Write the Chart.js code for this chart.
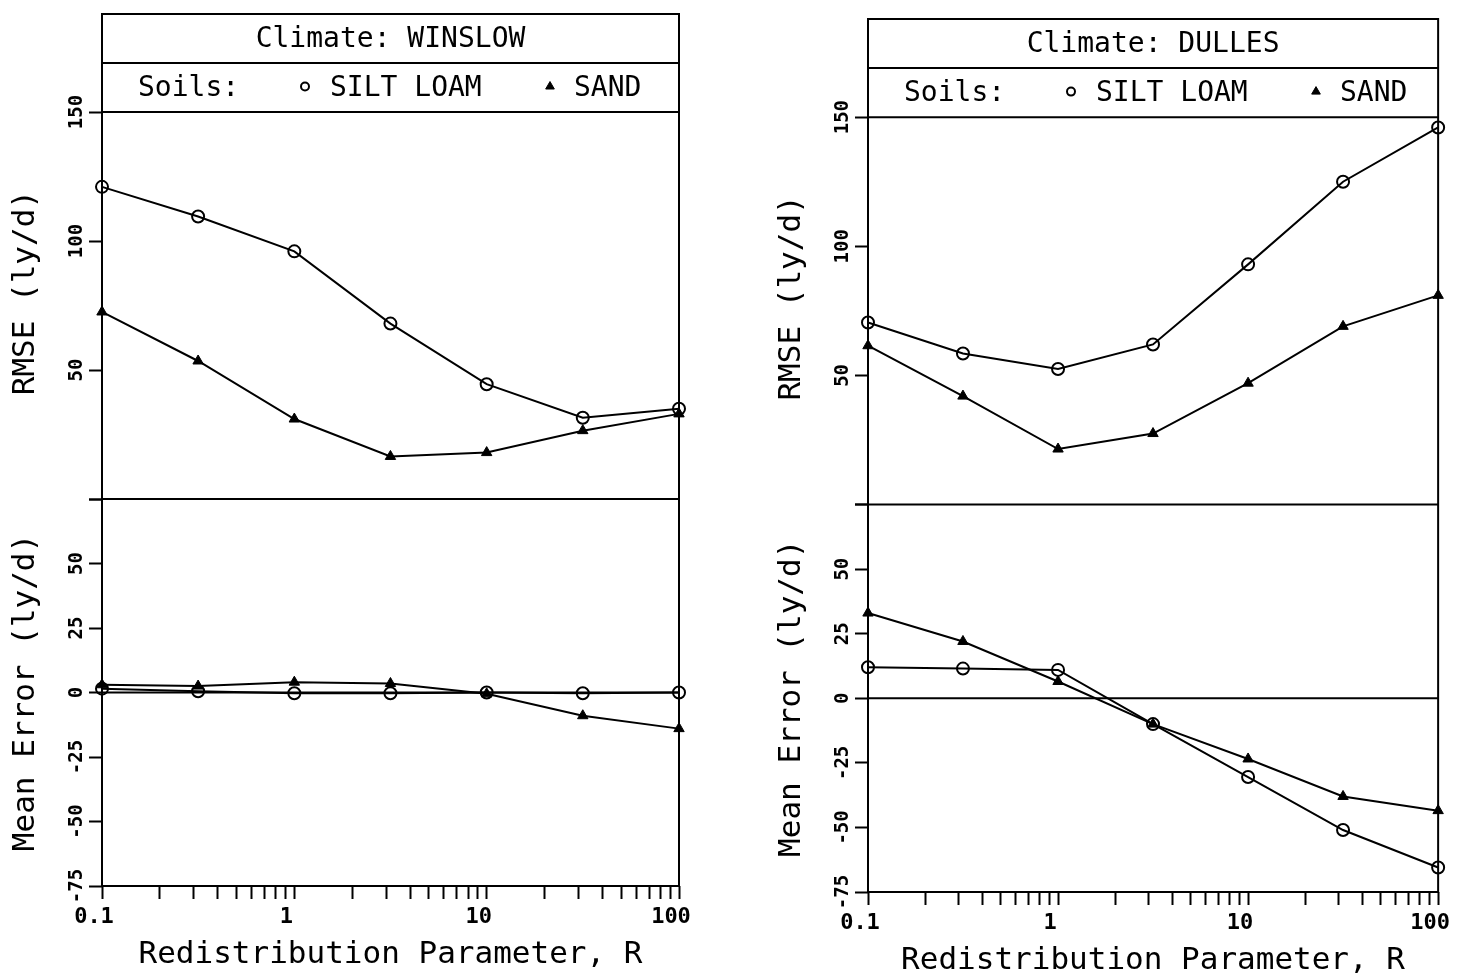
<!DOCTYPE html>
<html>
<head>
<meta charset="utf-8">
<title>RMSE and Mean Error vs Redistribution Parameter</title>
<script src="https://cdn.jsdelivr.net/npm/chart.js@4/dist/chart.umd.min.js"></script>
<style>
  html, body { margin: 0; padding: 0; background: #fff; }
  #wrap { position: relative; width: 1463px; height: 980px; overflow: hidden; }
  canvas { position: absolute; top: 0; }
</style>
</head>
<body>
<div id="wrap">
  <canvas id="winslow" width="731" height="980" style="left:0"></canvas>
  <canvas id="dulles" width="732" height="980" style="left:731px"></canvas>
</div>
<script>
// Redistribution parameter R (half-decade steps)
const redistribution = [0.1, 0.316, 1, 3.16, 10, 31.6, 100];
const soilNames = ['SILT LOAM', 'SAND'];

// Winslow climate
const winslowRmseSiltLoam = [121, 109.5, 96, 68, 44.5, 31.5, 35];
const winslowRmseSand = [72.5, 53.5, 31, 16.5, 18, 26.5, 33];
const winslowMeanErrorSiltLoam = [1.5, 0.5, -0.3, -0.3, 0, -0.3, 0];
const winslowMeanErrorSand = [3, 2.5, 4, 3.5, -0.5, -9, -14];

// Dulles climate
const dullesRmseSiltLoam = [70.5, 58.5, 52.5, 62, 93, 125, 146];
const dullesRmseSand = [61.5, 42, 21.5, 27.5, 47, 69, 81];
const dullesMeanErrorSiltLoam = [12, 11.5, 11, -10, -30.5, -51, -65.5];
const dullesMeanErrorSand = [33, 22, 6.5, -10, -23.5, -38, -43.5];

// Axis ticks and labels
const xMajorTicks = [0.1, 1, 10, 100];
const xTickLabels = ['0.1', '1', '10', '100'];
const rmseTicks = [0, 50, 100, 150];
const rmseTickLabels = ['', '50', '100', '150'];
const meanErrorTicks = [-75, -50, -25, 0, 25, 50, 75];
const meanErrorTickLabels = ['-75', '-50', '-25', '0', '25', '50', ''];

const xTitle = 'Redistribution Parameter, R';
const rmseTitle = 'RMSE (ly/d)';
const meanErrorTitle = 'Mean Error (ly/d)';
const legendPrefix = 'Soils:';

const FONT = "'DejaVu Sans Mono', monospace";

// minor + major tick positions on the log axis (1..9 in each decade)
const xTickValues = [];
xMajorTicks.slice(0, -1).forEach(d => {
  for (let k = 1; k <= 9; k++) xTickValues.push(Number((k * d).toPrecision(3)));
});
xTickValues.push(xMajorTicks[xMajorTicks.length - 1]);

const soilStyles = [
  { pointStyle: 'circle', pointRadius: 6, pointBorderWidth: 2,
    pointBackgroundColor: 'rgba(0,0,0,0)', pointBorderColor: '#000' },
  { pointStyle: 'triangle', pointRadius: 6, pointBorderWidth: 1,
    pointBackgroundColor: '#000', pointBorderColor: '#000' }
];

// Frame, divider, zero line, header boxes, rotated y labels and titles
const panelDecor = {
  id: 'panelDecor',
  beforeDatasetsDraw(chart, args, o) {
    const { ctx, chartArea: a, scales: { yR, yE } } = chart;
    ctx.save();
    ctx.strokeStyle = '#000';
    ctx.lineWidth = 2;
    ctx.strokeRect(a.left, a.top, a.right - a.left, a.bottom - a.top);
    const hline = y => {
      ctx.beginPath();
      ctx.moveTo(a.left, y);
      ctx.lineTo(a.right, y);
      ctx.stroke();
    };
    hline(yR.getPixelForValue(0));
    hline(yE.getPixelForValue(0));
    const legendBottom = yR.getPixelForValue(o.legendBottom);
    const titleBottom = yR.getPixelForValue(o.titleBottom);
    hline(legendBottom);
    hline(titleBottom);

    ctx.fillStyle = '#000';
    ctx.font = `28px ${FONT}`;
    ctx.textBaseline = 'middle';
    ctx.textAlign = 'center';
    ctx.fillText(`Climate: ${o.climate}`, (a.left + a.right) / 2, (a.top + titleBottom) / 2 + 1);

    const ly = (titleBottom + legendBottom) / 2 + 1;
    ctx.textAlign = 'left';
    ctx.fillText(legendPrefix, a.left + 36, ly);
    const items = [
      { marker: a.left + 203, text: a.left + 228, r: 4 },
      { marker: a.left + 448, text: a.left + 472, r: 5 }
    ];
    soilNames.forEach((name, i) => {
      const st = soilStyles[i];
      ctx.fillStyle = st.pointBackgroundColor;
      ctx.strokeStyle = '#000';
      ctx.lineWidth = i === 0 ? 2 : 1;
      Chart.helpers.drawPoint(ctx, { pointStyle: st.pointStyle, rotation: 0,
        radius: items[i].r, borderWidth: ctx.lineWidth }, items[i].marker, ly - 2);
      ctx.fillStyle = '#000';
      ctx.fillText(name, items[i].text, ly);
    });
    ctx.restore();
  },
  afterDraw(chart, args, o) {
    const { ctx, chartArea: a, scales: { yR, yE } } = chart;
    ctx.save();
    ctx.fillStyle = '#000';
    ctx.textAlign = 'center';
    ctx.textBaseline = 'middle';
    ctx.font = `bold 19px ${FONT}`;
    [yR, yE].forEach(s => {
      s.ticks.forEach(t => {
        if (!t.label) return;
        ctx.save();
        ctx.translate(a.left - o.tickLabelGap, s.getPixelForValue(t.value));
        ctx.rotate(-Math.PI / 2);
        ctx.fillText(t.label, 0, 0);
        ctx.restore();
      });
    });
    ctx.font = `31px ${FONT}`;
    const titles = [
      [rmseTitle, yR.getPixelForValue(o.rmseTitleCenter)],
      [meanErrorTitle, (yE.top + yE.bottom) / 2]
    ];
    titles.forEach(([text, y]) => {
      ctx.save();
      ctx.translate(a.left - o.titleGap, y);
      ctx.rotate(-Math.PI / 2);
      ctx.fillText(text, 0, 0);
      ctx.restore();
    });
    ctx.restore();
  }
};

function buildPanel(canvasId, climate, rmse, meanError, layout) {
  const datasets = [];
  soilNames.forEach((name, i) => {
    datasets.push(Object.assign({
      label: name,
      data: redistribution.map((r, k) => ({ x: r, y: rmse[i][k] })),
      yAxisID: 'yR'
    }, soilStyles[i]));
  });
  soilNames.forEach((name, i) => {
    datasets.push(Object.assign({
      label: name,
      data: redistribution.map((r, k) => ({ x: r, y: meanError[i][k] })),
      yAxisID: 'yE'
    }, soilStyles[i]));
  });
  datasets.forEach(d => {
    d.borderColor = '#000';
    d.borderWidth = 2;
    d.tension = 0;
    d.clip = false;
    d.fill = false;
  });

  const tickGrid = {
    drawOnChartArea: false, drawTicks: true, tickLength: 13,
    tickWidth: 2, tickColor: '#000'
  };

  new Chart(document.getElementById(canvasId), {
    type: 'line',
    data: { datasets },
    options: {
      responsive: false,
      animation: false,
      devicePixelRatio: 1,
      layout: { padding: layout.padding },
      plugins: {
        legend: { display: false },
        tooltip: { enabled: false },
        panelDecor: {
          climate,
          legendBottom: 150,
          titleBottom: 169,
          tickLabelGap: 25,
          titleGap: 76,
          rmseTitleCenter: 80
        }
      },
      scales: {
        x: {
          type: 'logarithmic',
          min: xMajorTicks[0],
          max: xMajorTicks[xMajorTicks.length - 1],
          afterBuildTicks: s => { s.ticks = xTickValues.map(v => ({ value: v })); },
          afterFit: s => { s.height = layout.xHeight; },
          ticks: {
            autoSkip: false, minRotation: 0, maxRotation: 0, padding: 5, color: '#000',
            labelOffset: -8,
            font: { family: FONT, size: 22, weight: 'bold' },
            callback: v => {
              const i = xMajorTicks.indexOf(v);
              return i < 0 ? '' : xTickLabels[i];
            }
          },
          grid: tickGrid,
          border: { display: false },
          title: {
            display: true, text: xTitle, color: '#000',
            font: { family: FONT, size: 31 },
            padding: { top: 0, bottom: layout.xTitlePad }
          }
        },
        yE: {
          type: 'linear', position: 'left', stack: 'panel', stackWeight: 150, weight: 0,
          min: meanErrorTicks[0], max: meanErrorTicks[meanErrorTicks.length - 1],
          afterBuildTicks: s => { s.ticks = meanErrorTicks.map(v => ({ value: v })); },
          afterFit: s => { s.width = layout.yWidth; },
          ticks: { display: false, callback: (v, i) => meanErrorTickLabels[i] },
          grid: tickGrid,
          border: { display: false }
        },
        yR: {
          type: 'linear', position: 'left', stack: 'panel', stackWeight: 188, weight: 1,
          min: 0, max: 188,
          afterBuildTicks: s => { s.ticks = rmseTicks.map(v => ({ value: v })); },
          afterFit: s => { s.width = layout.yWidth; },
          ticks: { display: false, callback: (v, i) => rmseTickLabels[i] },
          grid: tickGrid,
          border: { display: false }
        }
      }
    },
    plugins: [panelDecor]
  });
}

buildPanel('winslow', 'WINSLOW',
  [winslowRmseSiltLoam, winslowRmseSand],
  [winslowMeanErrorSiltLoam, winslowMeanErrorSand],
  { padding: { left: 0, right: 52, top: 14, bottom: 0 }, yWidth: 102, xHeight: 94, xTitlePad: 6 });

buildPanel('dulles', 'DULLES',
  [dullesRmseSiltLoam, dullesRmseSand],
  [dullesMeanErrorSiltLoam, dullesMeanErrorSand],
  { padding: { left: 0, right: 19, top: 19, bottom: 0 }, yWidth: 137, xHeight: 88, xTitlePad: 0 });
</script>
</body>
</html>
